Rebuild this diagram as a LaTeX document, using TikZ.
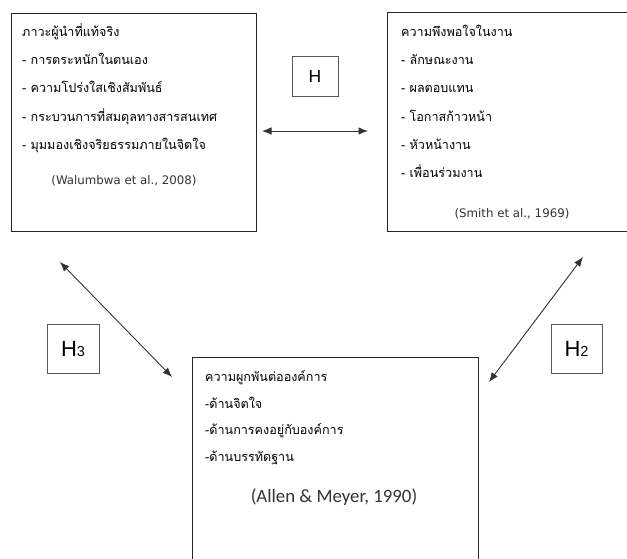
\documentclass[tikz,border=0pt]{standalone}
\usepackage{fontspec}
\newfontfamily\thaifnt[Script=Thai]{Loma}
\newfontfamily\latfnt{DejaVu Sans}
\newfontfamily\calfnt{Carlito}
\newfontfamily\arifnt{Liberation Sans}
\usetikzlibrary{arrows.meta}
\tikzset{
  bigbox/.style={draw=black!85, line width=0.9pt, rectangle, inner sep=0pt, anchor=north west},
  hbox/.style={draw=black!65, line width=0.8pt, rectangle, inner sep=0pt, text=black},
  thtxt/.style={anchor=base west, inner sep=0pt, font=\thaifnt\fontsize{12.6}{14}\selectfont, text=black},
  cite/.style={anchor=base, inner sep=0pt, font=\latfnt\fontsize{11.8}{13}\selectfont, text=black!80},
  citeb/.style={anchor=base, inner sep=0pt, font=\calfnt\fontsize{18.8}{20}\selectfont, text=black!80},
  rel/.style={draw=black!80, line width=0.9pt, {Latex[length=9.5pt,width=7.5pt]}-{Latex[length=9.5pt,width=7.5pt]}}
}
\begin{document}
\begin{tikzpicture}[x=1pt,y=-1pt]
\useasboundingbox (0,0) rectangle (627,558);
\clip (0,0) rectangle (627,558);
\fill[white] (0,0) rectangle (627,558);
% boxes
\node[bigbox, minimum width=245.5pt, minimum height=218.5pt] (lead) at (10.7,12.5) {};
\node[bigbox, minimum width=245pt, minimum height=218.5pt] (sat) at (387,12.2) {};
\node[bigbox, minimum width=286pt, minimum height=215pt] (com) at (191.7,356.5) {};
% left box text
\node[thtxt] (l0) at (22,36) {ภาวะผู้นำที่แท้จริง};
\node[thtxt] (l1) at (22,64) {- การตระหนักในตนเอง};
\node[thtxt] (l2) at (22,92) {- ความโปร่งใสเชิงสัมพันธ์};
\node[thtxt] (l3) at (22,121) {- กระบวนการที่สมดุลทางสารสนเทศ};
\node[thtxt] (l4) at (22,149) {- มุมมองเชิงจริยธรรมภายในจิตใจ};
\node[cite] (lc) at (124,184) {(Walumbwa et al., 2008)};
% right box text
\node[thtxt] (r0) at (401,36) {ความพึงพอใจในงาน};
\node[thtxt] (r1) at (401,64) {- ลักษณะงาน};
\node[thtxt] (r2) at (401,92) {- ผลตอบแทน};
\node[thtxt] (r3) at (401,121) {- โอกาสก้าวหน้า};
\node[thtxt] (r4) at (401,149) {- หัวหน้างาน};
\node[thtxt] (r5) at (401,177) {- เพื่อนร่วมงาน};
\node[cite] (rc) at (512,217) {(Smith et al., 1969)};
% bottom box text
\node[thtxt] (b0) at (205,381) {ความผูกพันต่อองค์การ};
\node[thtxt] (b1) at (205,408) {-ด้านจิตใจ};
\node[thtxt] (b2) at (205,434) {-ด้านการคงอยู่กับองค์การ};
\node[thtxt] (b3) at (205,461) {-ด้านบรรทัดฐาน};
\node[citeb] (bc) at (334,502) {(Allen \& Meyer, 1990)};
% hypothesis labels
\node[hbox, minimum width=46pt, minimum height=40pt, font=\arifnt\fontsize{17.5}{20}\selectfont] (h1) at (315,76) {H};
\node[hbox, minimum width=52pt, minimum height=49pt, font=\arifnt\fontsize{22}{24}\selectfont] (h3) at (73,348.5) {H{\fontsize{14.5}{16}\selectfont 3}};
\node[hbox, minimum width=51pt, minimum height=49pt, font=\arifnt\fontsize{22}{24}\selectfont] (h2) at (576.5,348.5) {H{\fontsize{14.5}{16}\selectfont 2}};
% arrow ends
\coordinate (a1) at (262,131);
\coordinate (a2) at (368,131);
\coordinate (a3) at (60,262);
\coordinate (a4) at (172,377);
\coordinate (a5) at (489,382);
\coordinate (a6) at (583,257);
\draw[rel] (a1) -- (a2);
\draw[rel] (a3) -- (a4);
\draw[rel] (a5) -- (a6);
\end{tikzpicture}
\end{document}
